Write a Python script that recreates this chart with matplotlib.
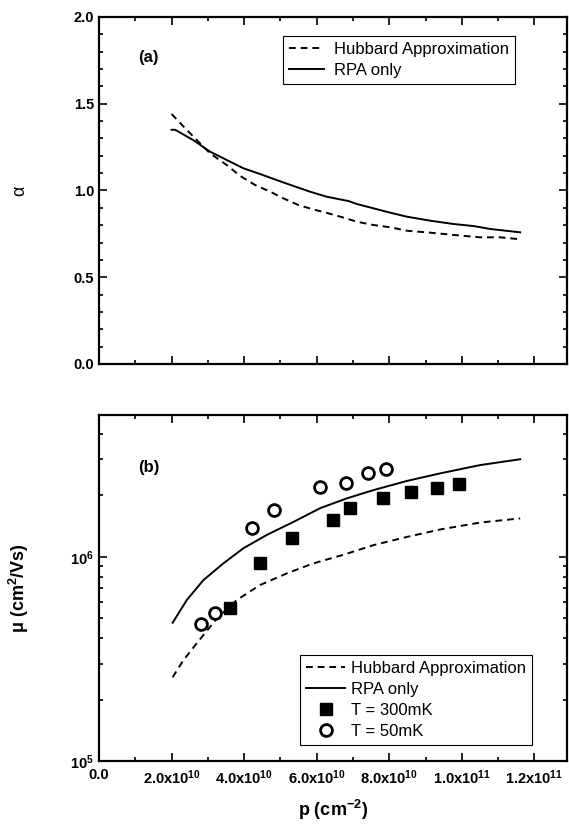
import math
import matplotlib
matplotlib.use("Agg")
import matplotlib.pyplot as plt
from matplotlib.ticker import MultipleLocator, FixedLocator, FuncFormatter, LogLocator, NullFormatter

plt.rcParams["font.family"] = ["Liberation Sans", "DejaVu Sans"]
plt.rcParams["mathtext.fontset"] = "custom"
plt.rcParams["mathtext.rm"] = "Liberation Sans"
plt.rcParams["mathtext.bf"] = "Liberation Sans:bold"
plt.rcParams["mathtext.default"] = "bf"

# panel (a): alpha vs p  (p in units of 1e10 cm^-2)
p_a_hub = [2.0, 2.42, 3.06, 3.52, 3.89, 4.30, 4.72, 5.08, 5.50, 5.91, 6.33, 6.72,
           7.11, 7.57, 8.03, 8.49, 9.13, 9.77, 10.51, 11.06, 11.61]
alpha_hub = [1.441, 1.349, 1.214, 1.147, 1.084, 1.032, 0.993, 0.955, 0.916, 0.891, 0.868, 0.845,
             0.820, 0.801, 0.788, 0.768, 0.757, 0.744, 0.730, 0.730, 0.719]
p_a_rpa = [2.0, 2.1, 2.6, 3.06, 3.52, 3.98, 4.44, 4.90, 5.36, 5.82, 6.28, 6.88,
           7.11, 7.57, 8.03, 8.49, 9.13, 9.77, 10.33, 10.79, 11.61]
alpha_rpa = [1.35, 1.35, 1.29, 1.224, 1.176, 1.128, 1.095, 1.06, 1.026, 0.993, 0.964, 0.939,
             0.922, 0.897, 0.872, 0.849, 0.826, 0.807, 0.795, 0.778, 0.759]

# panel (b): mobility vs p
p_b_hub = [2.03, 2.33, 2.69, 3.25, 3.80, 4.44, 5.18, 5.91, 6.72, 7.57, 8.49, 9.41, 10.51, 11.61]
mu_hub = [2.57e5, 3.12e5, 3.76e5, 4.99e5, 6.14e5, 7.27e5, 8.29e5, 9.28e5, 1.02e6, 1.14e6,
          1.25e6, 1.36e6, 1.47e6, 1.54e6]
p_b_rpa = [2.03, 2.42, 2.88, 3.43, 3.98, 4.63, 5.36, 6.10, 6.83, 7.57, 8.49, 9.41, 10.51, 11.61]
mu_rpa = [4.75e5, 6.14e5, 7.69e5, 9.28e5, 1.10e6, 1.28e6, 1.48e6, 1.73e6, 1.93e6, 2.12e6,
          2.35e6, 2.56e6, 2.81e6, 3.0e6]
p_300 = [3.61, 4.44, 5.31, 6.44, 6.92, 7.83, 8.61, 9.33, 9.91]
mu_300 = [5.62e5, 9.28e5, 1.24e6, 1.51e6, 1.74e6, 1.93e6, 2.08e6, 2.18e6, 2.27e6]
p_50 = [2.80, 3.20, 4.21, 4.81, 6.10, 6.80, 7.41, 7.92]
mu_50 = [4.69e5, 5.28e5, 1.39e6, 1.69e6, 2.19e6, 2.30e6, 2.58e6, 2.68e6]

scale = 1e10
dash = (3.5, 2.5)

fig = plt.figure(figsize=(5.69, 8.25), dpi=100)
ax1 = fig.add_axes([99 / 569, 1 - 364 / 825, 468 / 569, 347 / 825])
ax2 = fig.add_axes([99 / 569, 1 - 761 / 825, 468 / 569, 346 / 825])


def xfmt(v, pos):
    if abs(v) < 1:
        return "0.0"
    if v < 0:
        return ""
    e = int(math.floor(math.log10(v)))
    return r"$%.1fx10^{%d}$" % (v / 10 ** e, e)


for ax in (ax1, ax2):
    ax.set_xlim(0, 1.29e11)
    ax.xaxis.set_major_locator(MultipleLocator(2e10))
    ax.xaxis.set_minor_locator(MultipleLocator(1e10))
    ax.tick_params(which="both", direction="in", top=True, right=True, width=1.2)
    ax.tick_params(which="major", length=5.5)
    ax.tick_params(which="minor", length=3)
    ax.tick_params(axis="x", pad=5)
    for s in ax.spines.values():
        s.set_linewidth(1.6)

legend_kw = dict(fontsize=12, borderpad=0.35, labelspacing=0.36, fancybox=False,
                 framealpha=1, borderaxespad=0)

# (a)
ax1.plot([p * scale for p in p_a_hub], alpha_hub, color="black", lw=1.4, dashes=dash,
         label="Hubbard Approximation")
ax1.plot([p * scale for p in p_a_rpa], alpha_rpa, color="black", lw=1.4, label="RPA only")
ax1.set_ylim(0, 2.0)
ax1.yaxis.set_major_locator(MultipleLocator(0.5))
ax1.yaxis.set_minor_locator(MultipleLocator(0.1))
ax1.yaxis.set_major_formatter(FuncFormatter(lambda v, pos: "%.1f" % v))
ax1.set_xticklabels([])
for lab in ax1.get_yticklabels():
    lab.set_fontweight("bold")
    lab.set_fontsize(10.5)
ax1.set_ylabel("α", fontsize=13)
ax1.yaxis.set_label_coords(-0.152, 0.5)
ax1.text(0.084, 0.882, "(a)", transform=ax1.transAxes, fontsize=12, fontweight="bold",
         va="center")
leg1 = ax1.legend(loc="upper right", bbox_to_anchor=(0.889, 0.945), handlelength=2.1,
                  handletextpad=0.6, **legend_kw)
leg1.get_frame().set_edgecolor("black")
leg1.get_frame().set_linewidth(0.8)

# (b)
ax2.set_yscale("log")
ax2.plot([p * scale for p in p_b_hub], mu_hub, color="black", lw=1.4, dashes=dash,
         label="Hubbard Approximation")
ax2.plot([p * scale for p in p_b_rpa], mu_rpa, color="black", lw=1.4, label="RPA only")
ax2.plot([p * scale for p in p_300], mu_300, ls="none", marker="s", ms=8, color="black",
         label="T = 300mK")
ax2.plot([p * scale for p in p_50], mu_50, ls="none", marker="o", ms=8.5, mfc="white",
         mec="black", mew=2, label="T = 50mK")
ax2.set_ylim(1e5, 4.94e6)
ax2.yaxis.set_major_locator(FixedLocator([1e5, 1e6]))
ax2.yaxis.set_major_formatter(FuncFormatter(lambda v, pos: r"$10^{%d}$" % round(math.log10(v))))
ax2.yaxis.set_minor_locator(LogLocator(base=10, subs=range(2, 10)))
ax2.yaxis.set_minor_formatter(NullFormatter())
ax2.xaxis.set_major_formatter(FuncFormatter(xfmt))
for lab in ax2.get_xticklabels() + ax2.get_yticklabels():
    lab.set_fontweight("bold")
    lab.set_fontsize(10.5)
ax2.set_ylabel("μ (cm$^{2}$/Vs)", fontsize=13, fontweight="bold")
ax2.yaxis.set_label_coords(-0.145, 0.5)
ax2.set_xlabel("p (cm$^{-2}$)", fontsize=13, fontweight="bold", labelpad=8)
ax2.text(0.084, 0.847, "(b)", transform=ax2.transAxes, fontsize=12, fontweight="bold",
         va="center")
leg2 = ax2.legend(loc="lower right", bbox_to_anchor=(0.925, 0.046), handlelength=2.35,
                  handletextpad=0.35, **legend_kw)
leg2.get_frame().set_edgecolor("black")
leg2.get_frame().set_linewidth(0.8)

fig.savefig("out.png", dpi=100)
